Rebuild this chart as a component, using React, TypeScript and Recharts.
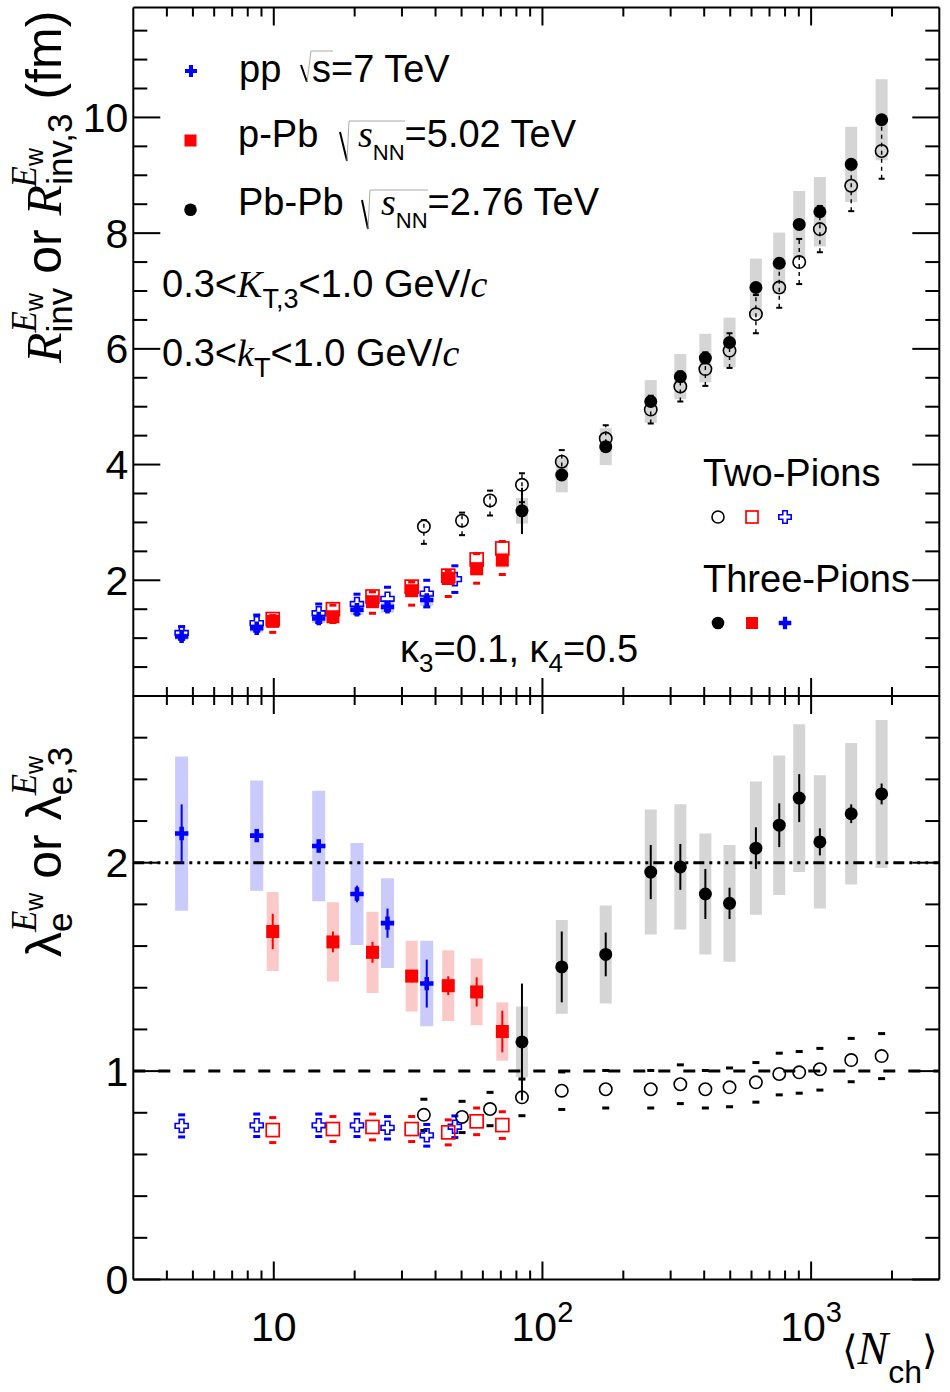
import React from "react";
import { ScatterChart, Scatter, XAxis, YAxis, ErrorBar, ReferenceLine } from "recharts";

const FONT = "'Liberation Sans', Arial, Helvetica, sans-serif";
const SERIF = "'Liberation Serif', 'Times New Roman', serif";
const BLUE = "#0000ff";
const RED = "#ff0000";
const GRAY_BOX = "#d5d5d5";
const BLUE_BOX = "#cacafb";
const RED_BOX = "#fcc9c9";

// ---------- x values: <N_ch> ----------
const ppNch2 = [4.54, 8.64, 14.7, 20.4, 26.5, 37.1, 47.2];
const ppNch3 = [4.54, 8.64, 14.7, 20.4, 26.5, 37.1];
const pPbNch = [9.91, 16.6, 23.3, 32.6, 44.6, 56.9, 70.9];
const PbPbNch2 = [36.2, 50.2, 63.8, 83.9, 118, 172, 253, 326, 404, 497, 623, 761, 903, 1078, 1410, 1830];
const PbPbNch3 = [83.9, 118, 172, 253, 326, 404, 497, 623, 761, 903, 1078, 1410, 1830];

// ---------- top panel: radii (fm) ----------
const ppR2 = [1.09, 1.26, 1.43, 1.59, 1.68, 1.77, 2.02];
const ppR2Err = [0.11, 0.14, 0.16, 0.17, 0.2, 0.23, 0.23];
const ppR3 = [1.03, 1.17, 1.34, 1.49, 1.54, 1.66];
const ppR3Stat = [0.03, 0.03, 0.03, 0.03, 0.03, 0.04];
const ppR3Syst = [0.06, 0.07, 0.08, 0.09, 0.1, 0.1];

const pPbR2 = [1.33, 1.5, 1.72, 1.89, 2.08, 2.36, 2.55];
const pPbR2Lo = [0.23, 0.23, 0.29, 0.32, 0.36, 0.41, 0.45];
const pPbR2Hi = [0.06, 0.07, 0.08, 0.08, 0.09, 0.1, 0.12];
const pPbR3 = [1.29, 1.37, 1.63, 1.82, 2.03, 2.2, 2.35];
const pPbR3Stat = [0.03, 0.03, 0.03, 0.03, 0.03, 0.04, 0.04];
const pPbR3Syst = [0.08, 0.09, 0.1, 0.1, 0.11, 0.12, 0.13];

const PbPbR2 = [2.93, 3.03, 3.38, 3.65, 4.05, 4.45, 4.95, 5.35, 5.65, 5.97, 6.6, 7.06, 7.5, 8.07, 8.82, 9.42];
const PbPbR2Lo = [0.3, 0.25, 0.26, 0.3, 0.22, 0.22, 0.24, 0.26, 0.29, 0.3, 0.33, 0.35, 0.38, 0.4, 0.44, 0.48];
const PbPbR2Hi = [0.11, 0.14, 0.17, 0.2, 0.2, 0.23, 0.24, 0.26, 0.29, 0.3, 0.33, 0.35, 0.4, 0.4, 0.44, 0.48];
const PbPbR3 = [3.2, 3.82, 4.31, 5.09, 5.52, 5.84, 6.11, 7.06, 7.48, 8.15, 8.37, 9.19, 9.96];
const PbPbR3Stat = [0.4, 0.1, 0.06, 0.06, 0.07, 0.07, 0.07, 0.07, 0.08, 0.08, 0.08, 0.09, 0.1];
const PbPbR3Syst = [0.22, 0.3, 0.32, 0.37, 0.39, 0.42, 0.43, 0.5, 0.53, 0.58, 0.6, 0.65, 0.7];

// ---------- bottom panel: lambda ----------
const ppL2 = [0.737, 0.74, 0.74, 0.74, 0.728, 0.692, 0.733];
const ppL2Err = [0.053, 0.054, 0.054, 0.054, 0.054, 0.052, 0.052];
const ppL3 = [2.14, 2.13, 2.08, 1.85, 1.71, 1.42];
const ppL3Stat = [0.14, 0.03, 0.03, 0.04, 0.07, 0.115];
const ppL3Syst = [0.37, 0.265, 0.265, 0.245, 0.215, 0.205];

const pPbL2 = [0.717, 0.722, 0.732, 0.722, 0.706, 0.759, 0.741];
const pPbL2Err = [0.06, 0.06, 0.062, 0.06, 0.06, 0.064, 0.064];
const pPbL3 = [1.67, 1.62, 1.57, 1.456, 1.41, 1.38, 1.19];
const pPbL3Stat = [0.085, 0.05, 0.05, 0.03, 0.045, 0.07, 0.1];
const pPbL3Syst = [0.19, 0.19, 0.195, 0.17, 0.17, 0.16, 0.14];

const PbPbL2 = [0.79, 0.78, 0.818, 0.874, 0.906, 0.913, 0.913, 0.937, 0.913, 0.922, 0.946, 0.986, 0.994, 1.009, 1.053, 1.072];
const PbPbL2Err = [0.075, 0.075, 0.08, 0.088, 0.09, 0.09, 0.09, 0.093, 0.09, 0.093, 0.095, 0.1, 0.1, 0.1, 0.104, 0.108];
const PbPbL3 = [1.14, 1.5, 1.56, 1.955, 1.98, 1.85, 1.805, 2.07, 2.18, 2.31, 2.1, 2.235, 2.33];
const PbPbL3Stat = [0.28, 0.17, 0.105, 0.13, 0.11, 0.12, 0.075, 0.1, 0.105, 0.115, 0.065, 0.045, 0.05];
const PbPbL3Syst = [0.17, 0.225, 0.235, 0.3, 0.3, 0.29, 0.28, 0.32, 0.335, 0.355, 0.32, 0.34, 0.355];

// ---------- ticks ----------
const xTicks = [4, 5, 6, 7, 8, 9, 10, 20, 30, 40, 50, 60, 70, 80, 90, 100, 200, 300, 400, 500, 600, 700, 800, 900, 1000, 2000];
const xMajor = [10, 100, 1000];
const xMajorBase = ["10", "10", "10"];
const xMajorExp = ["", "2", "3"];
const topYTicks = [0.5, 1, 1.5, 2, 2.5, 3, 3.5, 4, 4.5, 5, 5.5, 6, 6.5, 7, 7.5, 8, 8.5, 9, 9.5, 10, 10.5, 11, 11.5];
const topYMajor = [2, 4, 6, 8, 10];
const botYTicks = [0, 0.2, 0.4, 0.6, 0.8, 1, 1.2, 1.4, 1.6, 1.8, 2, 2.2, 2.4, 2.6];
const botYMajor = [0, 1, 2];
const topYDomain = [0, 11.9];
const botYDomain = [0, 2.8];
const xDomain = [3, 3000];

// ---------- data tables built from the arrays ----------
const withErr = (xs: number[], ys: number[], st?: number[], sy?: number[]) =>
  xs.map((x, i) => ({ x, y: ys[i], stat: st ? st[i] : 0, syst: sy ? sy[i] : 0 }));
const withAsym = (xs: number[], ys: number[], lo: number[], hi: number[]) =>
  xs.map((x, i) => ({ x, y: ys[i], e: [lo[i], hi[i]] }));
const caps = (xs: number[], ys: number[], lo: number[], hi: number[]) =>
  xs.flatMap((x, i) => [{ x, y: ys[i] - lo[i] }, { x, y: ys[i] + hi[i] }]);

// top
const ppTwoTop = withErr(ppNch2, ppR2);
const ppTwoTopCaps = caps(ppNch2, ppR2, ppR2Err, ppR2Err);
const ppThreeTop = withErr(ppNch3, ppR3, ppR3Stat, ppR3Syst);
const pPbTwoTop = withErr(pPbNch, pPbR2);
const pPbTwoTopCaps = caps(pPbNch, pPbR2, pPbR2Lo, pPbR2Hi);
const pPbThreeTop = withErr(pPbNch, pPbR3, pPbR3Stat, pPbR3Syst);
const PbPbTwoTop = withAsym(PbPbNch2, PbPbR2, PbPbR2Lo, PbPbR2Hi);
const PbPbTwoTopCaps = caps(PbPbNch2, PbPbR2, PbPbR2Lo, PbPbR2Hi);
const PbPbThreeTop = withErr(PbPbNch3, PbPbR3, PbPbR3Stat, PbPbR3Syst);
// bottom
const ppTwoBot = withErr(ppNch2, ppL2);
const ppTwoBotCaps = caps(ppNch2, ppL2, ppL2Err, ppL2Err);
const ppThreeBot = withErr(ppNch3, ppL3, ppL3Stat, ppL3Syst);
const pPbTwoBot = withErr(pPbNch, pPbL2);
const pPbTwoBotCaps = caps(pPbNch, pPbL2, pPbL2Err, pPbL2Err);
const pPbThreeBot = withErr(pPbNch, pPbL3, pPbL3Stat, pPbL3Syst);
const PbPbTwoBot = withErr(PbPbNch2, PbPbL2);
const PbPbTwoBotCaps = caps(PbPbNch2, PbPbL2, PbPbL2Err, PbPbL2Err);
const PbPbThreeBot = withErr(PbPbNch3, PbPbL3, PbPbL3Stat, PbPbL3Syst);

// ---------- marker shapes ----------
const crossPath = (cx: number, cy: number, a: number, b: number) =>
  `M${cx - b},${cy - a}H${cx + b}V${cy - b}H${cx + a}V${cy + b}H${cx + b}V${cy + a}H${cx - b}V${cy + b}H${cx - a}V${cy - b}H${cx - b}Z`;

const mFilledCircle = (cx: number, cy: number, r = 6.5) => <circle cx={cx} cy={cy} r={r} fill="#000" />;
const mOpenCircle = (cx: number, cy: number, r = 6.2) => (
  <circle cx={cx} cy={cy} r={r} fill="none" stroke="#000" strokeWidth={1.6} />
);
const mFilledSquare = (cx: number, cy: number, s = 13) => (
  <rect x={cx - s / 2} y={cy - s / 2} width={s} height={s} fill={RED} />
);
const mOpenSquare = (cx: number, cy: number, s = 13) => (
  <rect x={cx - s / 2} y={cy - s / 2} width={s} height={s} fill="none" stroke={RED} strokeWidth={1.7} />
);
const mFilledCross = (cx: number, cy: number, a = 6.7) => <path d={crossPath(cx, cy, a, a * 0.34)} fill={BLUE} />;
const mOpenCross = (cx: number, cy: number, a = 6.5) => (
  <path d={crossPath(cx, cy, a, a * 0.36)} fill="none" stroke={BLUE} strokeWidth={1.6} />
);

const sHidden = () => <g />;
const sFilledCircle = (p: any) => mFilledCircle(p.cx, p.cy);
const sOpenCircle = (p: any) => mOpenCircle(p.cx, p.cy);
const sFilledSquare = (p: any) => mFilledSquare(p.cx, p.cy);
const sOpenSquare = (p: any) => mOpenSquare(p.cx, p.cy);
const sFilledCross = (p: any) => mFilledCross(p.cx, p.cy);
const sOpenCross = (p: any) => mOpenCross(p.cx, p.cy);
const capShape = (color: string, w: number, h: number) => (p: any) => (
  <rect x={p.cx - w / 2} y={p.cy - h / 2} width={w} height={h} fill={color} />
);

// ---------- ticks ----------
function XTick(props: any) {
  const { x, y, payload, side, labels } = props;
  const v = payload ? payload.value : 0;
  const mi = xMajor.indexOf(v);
  const major = mi >= 0;
  const len = major ? 18 : 9;
  const y2 = side === "bottom" ? y - len : y + len;
  return (
    <g>
      <line x1={x} x2={x} y1={y} y2={y2} stroke="#000" strokeWidth={2} />
      {labels && major ? (
        <text x={x} y={y + 61} textAnchor="middle" fontFamily={FONT} fontSize={41} fill="#000">
          {xMajorBase[mi]}
          {xMajorExp[mi] ? (
            <tspan dy={-19} fontSize={29}>
              {xMajorExp[mi]}
            </tspan>
          ) : null}
        </text>
      ) : null}
    </g>
  );
}

function YTick(props: any) {
  const { x, y, payload, side, majors, labels } = props;
  const v = payload ? payload.value : 0;
  const major = majors.some((m: number) => Math.abs(m - v) < 1e-9);
  const len = major ? 27 : 14;
  const x2 = side === "left" ? x + len : x - len;
  return (
    <g>
      <line x1={x} x2={x2} y1={y} y2={y} stroke="#000" strokeWidth={2} />
      {labels && major ? (
        <text x={x - 5} y={y} dy={14.5} textAnchor="end" fontFamily={FONT} fontSize={41} fill="#000">
          {v}
        </text>
      ) : null}
    </g>
  );
}

const axisLine = { stroke: "#000", strokeWidth: 2 };

function axes(yDomain: number[], yTicks: number[], yMajor: number[], xLabels: boolean, hidden: boolean) {
  const common: any = {
    type: "number",
    allowDataOverflow: true,
    interval: 0,
    tickSize: 0,
    tickMargin: 0,
    tickLine: false,
  };
  const list = [
    <XAxis
      key="xb"
      xAxisId="b"
      orientation="bottom"
      dataKey="x"
      scale="log"
      domain={xDomain}
      ticks={xTicks}
      height={1}
      hide={hidden}
      axisLine={axisLine}
      tick={(p: any) => <XTick {...p} side="bottom" labels={xLabels} />}
      {...common}
    />,
    <YAxis
      key="yl"
      yAxisId="l"
      orientation="left"
      dataKey="y"
      domain={yDomain}
      ticks={yTicks}
      width={1}
      hide={hidden}
      axisLine={axisLine}
      tick={(p: any) => <YTick {...p} side="left" majors={yMajor} labels={true} />}
      {...common}
    />,
  ];
  if (!hidden) {
    list.push(
      <XAxis
        key="xt"
        xAxisId="t"
        orientation="top"
        dataKey="x"
        scale="log"
        domain={xDomain}
        ticks={xTicks}
        height={1}
        axisLine={axisLine}
        tick={(p: any) => <XTick {...p} side="top" labels={false} />}
        {...common}
      />,
      <YAxis
        key="yr"
        yAxisId="r"
        orientation="right"
        dataKey="y"
        domain={yDomain}
        ticks={yTicks}
        width={1}
        axisLine={axisLine}
        tick={(p: any) => <YTick {...p} side="right" majors={yMajor} labels={false} />}
        {...common}
      />
    );
  }
  return list;
}

const ids = { xAxisId: "b", yAxisId: "l", isAnimationActive: false } as any;

const boxBar = (color: string, w: number) => (
  <ErrorBar dataKey="syst" direction="y" width={0} stroke={color} strokeWidth={w} isAnimationActive={false} />
);
const statBar = (color: string) => (
  <ErrorBar dataKey="stat" direction="y" width={0} stroke={color} strokeWidth={2} isAnimationActive={false} />
);

// plot area: x 133.3..939.3 ; top panel y 7.5..696 ; bottom panel y 696..1279.5
const TOP_BOX_MARGIN = { top: 7.5, right: 10.7, bottom: 4, left: 133.3 };
const TOP_MARGIN = { top: 6.5, right: 9.7, bottom: 3, left: 132.3 };
const BOT_BOX_MARGIN = { top: 6, right: 10.7, bottom: 112.5, left: 133.3 };
const BOT_MARGIN = { top: 5, right: 9.7, bottom: 111.5, left: 132.3 };

function TopBoxes() {
  return (
    <ScatterChart width={950} height={700} margin={TOP_BOX_MARGIN}>
      {axes(topYDomain, topYTicks, topYMajor, false, true)}
      <Scatter {...ids} data={PbPbThreeTop} shape={sHidden}>{boxBar(GRAY_BOX, 12)}</Scatter>
      <Scatter {...ids} data={pPbThreeTop} shape={sHidden}>{boxBar(RED_BOX, 12)}</Scatter>
      <Scatter {...ids} data={ppThreeTop} shape={sHidden}>{boxBar(BLUE_BOX, 13)}</Scatter>
    </ScatterChart>
  );
}

function TopMain() {
  return (
    <ScatterChart width={950} height={700} margin={TOP_MARGIN}>
      {axes(topYDomain, topYTicks, topYMajor, false, false)}
      <Scatter {...ids} data={PbPbTwoTop} shape={sOpenCircle}>
        <ErrorBar dataKey="e" direction="y" width={0} stroke="#000" strokeWidth={1.4} strokeDasharray="4 4" isAnimationActive={false} />
      </Scatter>
      <Scatter {...ids} data={PbPbTwoTopCaps} shape={capShape("#000", 6, 2)} />
      <Scatter {...ids} data={ppTwoTopCaps} shape={capShape(BLUE, 7, 3)} />
      <Scatter {...ids} data={pPbTwoTopCaps} shape={capShape(RED, 7, 3)} />
      <Scatter {...ids} data={ppTwoTop} shape={sOpenCross} />
      <Scatter {...ids} data={pPbTwoTop} shape={sOpenSquare} />
      <Scatter {...ids} data={PbPbThreeTop} shape={sFilledCircle}>{statBar("#000")}</Scatter>
      <Scatter {...ids} data={pPbThreeTop} shape={sFilledSquare}>{statBar(RED)}</Scatter>
      <Scatter {...ids} data={ppThreeTop} shape={sFilledCross}>{statBar(BLUE)}</Scatter>
    </ScatterChart>
  );
}

function BotBoxes() {
  return (
    <ScatterChart width={950} height={702} margin={BOT_BOX_MARGIN}>
      {axes(botYDomain, botYTicks, botYMajor, false, true)}
      <Scatter {...ids} data={PbPbThreeBot} shape={sHidden}>{boxBar(GRAY_BOX, 12)}</Scatter>
      <Scatter {...ids} data={pPbThreeBot} shape={sHidden}>{boxBar(RED_BOX, 12)}</Scatter>
      <Scatter {...ids} data={ppThreeBot} shape={sHidden}>{boxBar(BLUE_BOX, 13)}</Scatter>
    </ScatterChart>
  );
}

function BotMain() {
  return (
    <ScatterChart width={950} height={702} margin={BOT_MARGIN}>
      {axes(botYDomain, botYTicks, botYMajor, true, false)}
      <ReferenceLine xAxisId="b" yAxisId="l" y={2} stroke="#000" strokeWidth={3} strokeDasharray="11 5 3 5 3 5 3 5" />
      <ReferenceLine xAxisId="b" yAxisId="l" y={1} stroke="#000" strokeWidth={3} strokeDasharray="12 13" />
      <Scatter {...ids} data={PbPbTwoBotCaps} shape={capShape("#000", 7, 3)} />
      <Scatter {...ids} data={ppTwoBotCaps} shape={capShape(BLUE, 7, 3)} />
      <Scatter {...ids} data={pPbTwoBotCaps} shape={capShape(RED, 7, 3)} />
      <Scatter {...ids} data={PbPbTwoBot} shape={sOpenCircle} />
      <Scatter {...ids} data={ppTwoBot} shape={sOpenCross} />
      <Scatter {...ids} data={pPbTwoBot} shape={sOpenSquare} />
      <Scatter {...ids} data={PbPbThreeBot} shape={sFilledCircle}>{statBar("#000")}</Scatter>
      <Scatter {...ids} data={pPbThreeBot} shape={sFilledSquare}>{statBar(RED)}</Scatter>
      <Scatter {...ids} data={ppThreeBot} shape={sFilledCross}>{statBar(BLUE)}</Scatter>
    </ScatterChart>
  );
}

function Overlay() {
  const t = { fontFamily: FONT, fill: "#000" } as any;
  const it = { fontFamily: SERIF, fontStyle: "italic" } as any;
  return (
    <svg width={950} height={1392} style={{ position: "absolute", left: 0, top: 0, pointerEvents: "none" }}>
      {/* Y title, top */}
      <text transform="rotate(-90)" x={-363} y={61} fontSize={50} {...t} style={{ whiteSpace: "pre" }}>
        <tspan {...it}>R</tspan>
        <tspan fontSize={35} dy={11}>inv</tspan>
        <tspan fontSize={35} dx={-44.7} dy={-36} {...it}>E</tspan>
        <tspan fontSize={25} dy={7}>w</tspan>
        <tspan dx={5.3} dy={18}>{" or "}</tspan>
        <tspan {...it}>R</tspan>
        <tspan fontSize={35} dy={11}>inv,3</tspan>
        <tspan fontSize={35} dx={-73.9} dy={-36} {...it}>E</tspan>
        <tspan fontSize={25} dy={7}>w</tspan>
        <tspan dx={34.5} dy={18}>{" (fm)"}</tspan>
      </text>
      {/* Y title, bottom */}
      <text transform="rotate(-90)" x={-957} y={61} fontSize={50} {...t} style={{ whiteSpace: "pre" }}>
        <tspan>λ</tspan>
        <tspan fontSize={35} dy={11}>e</tspan>
        <tspan fontSize={35} dx={-19.5} dy={-36} {...it}>E</tspan>
        <tspan fontSize={25} dy={7}>w</tspan>
        <tspan dy={18}>{" or "}</tspan>
        <tspan>λ</tspan>
        <tspan fontSize={35} dy={11}>e,3</tspan>
        <tspan fontSize={35} dx={-48.7} dy={-36} {...it}>E</tspan>
        <tspan fontSize={25} dy={7}>w</tspan>
      </text>
      {/* X title */}
      <text x={842} y={1364} fontSize={46} {...t}>
        <tspan fontFamily="'DejaVu Sans'" fontSize={40}>⟨</tspan>
        <tspan {...it}>N</tspan>
        <tspan fontSize={32} dy={19}>ch</tspan>
        <tspan fontFamily="'DejaVu Sans'" fontSize={40} dy={-19}>⟩</tspan>
      </text>

      {/* Legend: systems */}
      {mFilledCross(191, 71, 6)}
      {mFilledSquare(190.5, 140.5, 12)}
      {mFilledCircle(190.5, 209.7, 6.3)}
      <text x={239} y={82} fontSize={38} {...t}>pp</text>
      <path d="M301,65 L307,82" stroke="#000" strokeWidth={2} fill="none" />
      <path d="M307,82 L311,51 L333,51" stroke="#aaa" strokeWidth={1} fill="none" />
      <text x={312} y={82} fontSize={38} {...t}>s=7 TeV</text>

      <text x={238} y={147} fontSize={38} {...t}>p-Pb</text>
      <path d="M340,132 L347,161" stroke="#000" strokeWidth={2} fill="none" />
      <path d="M347,161 L349,121 L405,121" stroke="#aaa" strokeWidth={1} fill="none" />
      <text x={358} y={147} fontSize={38} {...t}>
        <tspan {...it}>s</tspan>
        <tspan dy={13} fontSize={22}>NN</tspan>
        <tspan dy={-13}>=5.02 TeV</tspan>
      </text>

      <text x={238} y={215} fontSize={38} {...t}>Pb-Pb</text>
      <path d="M362,200 L368,229" stroke="#000" strokeWidth={2} fill="none" />
      <path d="M368,229 L370,190 L428,190" stroke="#aaa" strokeWidth={1} fill="none" />
      <text x={381} y={215} fontSize={38} {...t}>
        <tspan {...it}>s</tspan>
        <tspan dy={13} fontSize={22}>NN</tspan>
        <tspan dy={-13}>=2.76 TeV</tspan>
      </text>

      {/* kT ranges */}
      <text x={162} y={297} fontSize={38} {...t}>
        <tspan>0.3&lt;</tspan>
        <tspan {...it}>K</tspan>
        <tspan dy={11} fontSize={27}>T,3</tspan>
        <tspan dy={-11}>&lt;1.0 GeV/</tspan>
        <tspan {...it}>c</tspan>
      </text>
      <text x={162} y={366} fontSize={38} {...t}>
        <tspan>0.3&lt;</tspan>
        <tspan {...it}>k</tspan>
        <tspan dy={11} fontSize={27}>T</tspan>
        <tspan dy={-11}>&lt;1.0 GeV/</tspan>
        <tspan {...it}>c</tspan>
      </text>

      {/* kappa */}
      <text x={400} y={662} fontSize={38} {...t}>
        <tspan>κ</tspan>
        <tspan fontSize={26} dy={10}>3</tspan>
        <tspan dy={-10}>=0.1, κ</tspan>
        <tspan fontSize={26} dy={10}>4</tspan>
        <tspan dy={-10}>=0.5</tspan>
      </text>

      {/* Two / Three pions legend */}
      <text x={703} y={486} fontSize={38} {...t}>Two-Pions</text>
      {mOpenCircle(718, 517, 6)}
      {mOpenSquare(752, 517, 12)}
      {mOpenCross(785, 517, 6.2)}
      <text x={703} y={592} fontSize={38} {...t}>Three-Pions</text>
      {mFilledCircle(718, 623, 6.3)}
      {mFilledSquare(752, 623, 12)}
      {mFilledCross(785, 623, 6.3)}
    </svg>
  );
}

export default function App() {
  return (
    <div style={{ position: "absolute", left: 0, top: 0, width: 950, height: 1392, background: "#fff" }}>
      <div style={{ position: "absolute", left: 0, top: 0 }}>
        <TopBoxes />
      </div>
      <div style={{ position: "absolute", left: 0, top: 0 }}>
        <TopMain />
      </div>
      <div style={{ position: "absolute", left: 0, top: 690 }}>
        <BotBoxes />
      </div>
      <div style={{ position: "absolute", left: 0, top: 690 }}>
        <BotMain />
      </div>
      <Overlay />
    </div>
  );
}
